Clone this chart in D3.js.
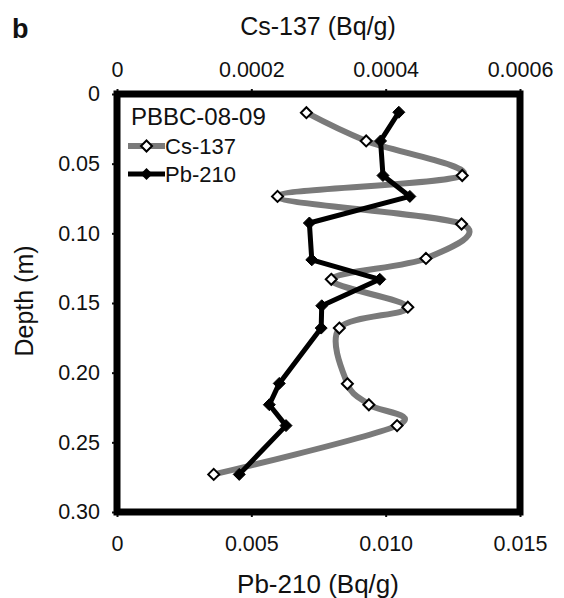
<!DOCTYPE html>
<html>
<head>
<meta charset="utf-8">
<script src="https://cdn.jsdelivr.net/npm/d3@7"></script>
<style>
  html, body { margin: 0; padding: 0; background: #fff; }
  text { font-family: "Liberation Sans", Arial, sans-serif; fill: #111; }
</style>
</head>
<body>
<svg id="chart" width="564" height="598"></svg>
<script>
// ---- data ----
const csDepth = [0.0134, 0.0337, 0.0585, 0.0735, 0.0933, 0.118, 0.133, 0.153, 0.168, 0.208, 0.223, 0.238, 0.273];
const csValue = [0.000282, 0.000371, 0.000514, 0.000239, 0.000513, 0.000460, 0.000319, 0.000433, 0.000331, 0.000343, 0.000375, 0.000417, 0.000144];
const pbDepth = [0.0131, 0.0337, 0.0585, 0.0735, 0.0926, 0.119, 0.133, 0.152, 0.168, 0.2077, 0.223, 0.238, 0.273];
const pbValue = [0.01049, 0.00981, 0.00990, 0.01090, 0.00716, 0.00725, 0.00978, 0.00762, 0.00760, 0.00604, 0.00567, 0.00629, 0.00455];
const depthTicks = [0, 0.05, 0.10, 0.15, 0.20, 0.25, 0.30];
const depthTickLabels = ["0", "0.05", "0.10", "0.15", "0.20", "0.25", "0.30"];
const csTicks = [0, 0.0002, 0.0004, 0.0006];
const csTickLabels = ["0", "0.0002", "0.0004", "0.0006"];
const pbTicks = [0, 0.005, 0.010, 0.015];
const pbTickLabels = ["0", "0.005", "0.010", "0.015"];

const svg = d3.select("#chart");
const L = 117, R = 520, T = 94, B = 512;

const y = d3.scaleLinear().domain([0, 0.30]).range([T, B]);
const xCs = d3.scaleLinear().domain([0, 0.0006]).range([L, R]);
const xPb = d3.scaleLinear().domain([0, 0.015]).range([L, R]);

// axes (ticks outside)
const axL = d3.axisLeft(y).tickValues(depthTicks).tickFormat((d, i) => depthTickLabels[i]).tickSize(5).tickPadding(12);
const axT = d3.axisTop(xCs).tickValues(csTicks).tickFormat((d, i) => csTickLabels[i]).tickSize(5).tickPadding(12);
const axB = d3.axisBottom(xPb).tickValues(pbTicks).tickFormat((d, i) => pbTickLabels[i]).tickSize(5).tickPadding(19);

function styleAxis(g) {
  g.select(".domain").remove();
  g.selectAll(".tick line").attr("stroke", "#111").attr("stroke-width", 2);
  g.selectAll(".tick text").style("font-size", "21.5px").attr("fill", "#111")
    .style("font-family", '"Liberation Sans", Arial, sans-serif');
}
svg.append("g").attr("transform", `translate(${L},0)`).call(axL).call(styleAxis);
svg.append("g").attr("transform", `translate(0,${T})`).call(axT).call(styleAxis);
svg.append("g").attr("transform", `translate(0,${B})`).call(axB).call(styleAxis);

// frame
svg.append("rect").attr("x", L).attr("y", T).attr("width", R - L).attr("height", B - T)
  .attr("fill", "none").attr("stroke", "#000").attr("stroke-width", 7);

// series
const csData = csDepth.map((d, i) => ({ d, v: csValue[i] }));
const pbData = pbDepth.map((d, i) => ({ d, v: pbValue[i] }));

const csLine = d3.line().x(p => xCs(p.v)).y(p => y(p.d)).curve(d3.curveCardinal.tension(0));
svg.append("path").datum(csData).attr("d", csLine).attr("fill", "none")
  .attr("stroke", "#7a7a7a").attr("stroke-width", 6);

const pbLine = d3.line().x(p => xPb(p.v)).y(p => y(p.d));
svg.append("path").datum(pbData).attr("d", pbLine).attr("fill", "none")
  .attr("stroke", "#000").attr("stroke-width", 5).attr("stroke-linejoin", "round");

const diamondPath = "M0,-6L6,0L0,6L-6,0Z";
const openDiamond = "M0,-5.5L5.5,0L0,5.5L-5.5,0Z";

svg.append("g").selectAll("path").data(pbData).join("path")
  .attr("d", diamondPath)
  .attr("transform", p => `translate(${xPb(p.v)},${y(p.d)})`)
  .attr("fill", "#000").attr("stroke", "#000").attr("stroke-width", 1);

svg.append("g").selectAll("path").data(csData).join("path")
  .attr("d", openDiamond)
  .attr("transform", p => `translate(${xCs(p.v)},${y(p.d)})`)
  .attr("fill", "#fff").attr("stroke", "#000").attr("stroke-width", 2);

// legend
svg.append("text").attr("x", 131).attr("y", 125).style("font-size", "24px").text("PBBC-08-09");
svg.append("line").attr("x1", 128).attr("x2", 165).attr("y1", 146).attr("y2", 146)
  .attr("stroke", "#7a7a7a").attr("stroke-width", 6);
svg.append("path").attr("d", openDiamond).attr("transform", "translate(146.5,146)")
  .attr("fill", "#fff").attr("stroke", "#000").attr("stroke-width", 2);
svg.append("text").attr("x", 165).attr("y", 154).style("font-size", "22px").text("Cs-137");
svg.append("line").attr("x1", 128).attr("x2", 165).attr("y1", 174).attr("y2", 174)
  .attr("stroke", "#000").attr("stroke-width", 5);
svg.append("path").attr("d", diamondPath).attr("transform", "translate(146.5,174)").attr("fill", "#000");
svg.append("text").attr("x", 165).attr("y", 182).style("font-size", "22px").text("Pb-210");

// titles
svg.append("text").attr("x", 12).attr("y", 38).style("font-size", "27px").style("font-weight", "bold").text("b");
svg.append("text").attr("x", 318).attr("y", 35).attr("text-anchor", "middle").style("font-size", "25px").text("Cs-137 (Bq/g)");
svg.append("text").attr("x", 318).attr("y", 593).attr("text-anchor", "middle").style("font-size", "26px").text("Pb-210 (Bq/g)");
svg.append("text").attr("transform", `translate(33,301) rotate(-90)`).attr("text-anchor", "middle")
  .style("font-size", "25px").text("Depth (m)");
</script>
</body>
</html>
